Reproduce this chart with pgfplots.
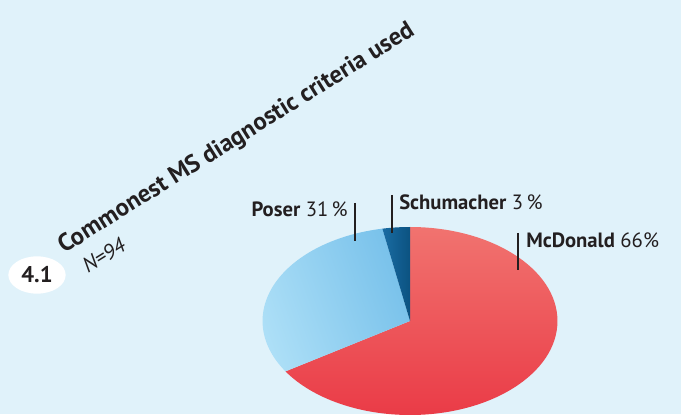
\documentclass[border=0pt]{standalone}
\usepackage{pgfplots}
\pgfplotsset{compat=1.18}
\usepackage{pgfplotstable}
\usepackage{fontspec}
\setmainfont{PT Sans}
\definecolor{bgblue}{RGB}{224,242,250}
\definecolor{txt}{RGB}{35,31,32}
\definecolor{redtop}{RGB}{241,116,112}
\definecolor{redbot}{RGB}{234,58,70}
\definecolor{ltblueA}{RGB}{178,226,248}
\definecolor{ltblueB}{RGB}{118,192,234}
\definecolor{dkblueA}{RGB}{28,112,168}
\definecolor{dkblueB}{RGB}{10,80,126}

\pgfplotstableread{
label value
McDonald 66
Poser 31
Schumacher 3
}\piedata

\pgfplotstablegetelem{0}{value}\of\piedata \let\vMc\pgfplotsretval
\pgfplotstablegetelem{1}{value}\of\piedata \let\vPo\pgfplotsretval
\pgfplotstablegetelem{2}{value}\of\piedata \let\vSc\pgfplotsretval
\pgfmathsetmacro{\aA}{90}
\pgfmathsetmacro{\aB}{\aA-3.6*\vMc}
\pgfmathsetmacro{\aC}{\aB-3.6*\vPo}
\pgfmathsetmacro{\aD}{\aC-3.6*\vSc}
% pie radii (1 px = 0.75pt)
\newcommand{\sector}[2]{(axis cs:410,93) -- ++({110.6pt*cos(#1)},{70.5pt*sin(#1)}) arc[start angle=#1, end angle=#2, x radius=110.6pt, y radius=70.5pt] -- cycle}

\begin{document}
\begin{tikzpicture}
\begin{axis}[
    scale only axis,
    width=510.75pt, height=310.5pt,
    xmin=0, xmax=681, ymin=0, ymax=414,
    hide axis,
]
\fill[bgblue] (axis cs:0,0) rectangle (axis cs:681,414);

\begin{scope}
  \clip \sector{\aA}{\aB};
  \shade[top color=redtop, bottom color=redbot] (axis cs:255,-5) rectangle (axis cs:565,190);
\end{scope}
\begin{scope}
  \clip \sector{\aB}{\aC};
  \shade[left color=ltblueA, right color=ltblueB, shading angle=110] (axis cs:255,-5) rectangle (axis cs:415,190);
\end{scope}
\begin{scope}
  \clip \sector{\aC}{\aD};
  \shade[left color=dkblueA, right color=dkblueB] (axis cs:378,80) rectangle (axis cs:412,190);
\end{scope}

% leader lines
\draw[txt, line width=0.8pt] (axis cs:355,211) -- (axis cs:355,173);
\draw[txt, line width=0.8pt] (axis cs:392,219) -- (axis cs:392,181);
\draw[txt, line width=0.8pt] (axis cs:518,181) -- (axis cs:518,144);

% labels
\node[txt, anchor=base east, inner sep=0pt, font=\fontsize{15.5}{18}\selectfont] at (axis cs:348,197) {\textbf{Poser} 31\,\%};
\node[txt, anchor=base west, inner sep=0pt, font=\fontsize{15.5}{18}\selectfont] at (axis cs:399,204) {\textbf{Schumacher} 3\,\%};
\node[txt, anchor=base west, inner sep=0pt, font=\fontsize{15.5}{18}\selectfont] at (axis cs:526,166) {\textbf{McDonald} 66\%};

% title
\node[txt, anchor=base west, inner sep=0pt, rotate=32, font=\fontsize{18.5}{22}\selectfont\bfseries] at (axis cs:64,160) {Commonest MS diagnostic criteria used};
\node[txt, anchor=base west, inner sep=0pt, rotate=32, font=\fontsize{16}{18}\selectfont\itshape] at (axis cs:88,140) {N=94};

% figure number
\fill[white] (axis cs:37,139) ellipse[x radius=21.5pt, y radius=14pt];
\node[txt, inner sep=0pt, font=\fontsize{17}{19}\selectfont\bfseries] at (axis cs:37,139) {4.1};
\end{axis}
\end{tikzpicture}
\end{document}
